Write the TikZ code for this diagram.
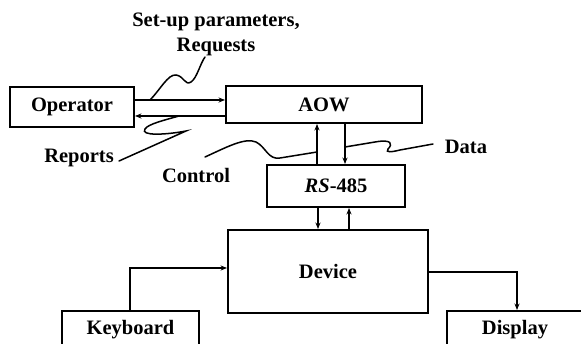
\documentclass[tikz,border=0pt]{standalone}
\usepackage{fontspec}
\setmainfont{Liberation Serif}
\usetikzlibrary{arrows.meta}
\begin{document}
\begin{tikzpicture}[x=1pt,y=-1pt,
  box/.style={draw, line width=1.9pt, inner sep=0pt, font=\fontsize{20.5}{23}\selectfont\bfseries},
  lbl/.style={inner sep=0pt, font=\fontsize{20.5}{23}\selectfont\bfseries},
  arr/.style={line width=1.5pt, -{Stealth[length=6.5pt,width=5pt]}},
  wig/.style={line width=1.5pt, line cap=round}]
\useasboundingbox (0,0) rectangle (581,344);
\clip (0,0) rectangle (581,344);
\fill[white] (0,0) rectangle (581,344);

\node[box, minimum width=124pt, minimum height=40pt] (op) at (72,107) {Operator};
\node[box, minimum width=196pt, minimum height=37pt] (aow) at (324,104.5) {AOW};
\node[box, minimum width=138pt, minimum height=42pt] (rs) at (336,186) {\textit{RS}-485};
\node[box, minimum width=200pt, minimum height=83pt] (dev) at (328,271.5) {Device};
\node[box, minimum width=137pt, minimum height=38pt] (kb) at (130.5,330) {Keyboard};
\node[box, minimum width=136pt, minimum height=38pt] (disp) at (515,330) {Display};

\node[lbl] (l1) at (216,22) {Set-up parameters,};
\node[lbl] (l2) at (216,47) {Requests};
\node[lbl] (rep) at (79,158) {Reports};
\node[lbl] (ctl) at (196,175) {Control};
\node[lbl] (dat) at (466,147) {Data};

% helper coordinates
\coordinate (yA) at (0,100);
\coordinate (yB) at (0,116);
\coordinate (xA) at (317,0);
\coordinate (xB) at (345,0);
\coordinate (xC) at (318,0);
\coordinate (xD) at (349,0);
\coordinate (xK) at (130,0);
\coordinate (yK) at (0,268);
\coordinate (yD) at (0,272);
\coordinate (xP) at (517,0);

\draw[arr] (op.east |- yA) -- (aow.west |- yA);
\draw[arr] (aow.west |- yB) -- (op.east |- yB);
\draw[arr] (rs.north -| xA) -- (aow.south -| xA);
\draw[arr] (aow.south -| xB) -- (rs.north -| xB);
\draw[arr] (rs.south -| xC) -- (dev.north -| xC);
\draw[arr] (dev.north -| xD) -- (rs.south -| xD);
\draw[arr] (kb.north -| xK) |- (dev.west |- yK);
\draw[arr] (dev.east |- yD) -| (disp.north -| xP);

% squiggles
\coordinate (s0) at (150,100);
\coordinate (s1) at (205,57);
\draw[wig] (s0) .. controls (160,90) and (168,74) .. (176,75)
  .. controls (184,76) and (185,86) .. (191,82)
  .. controls (197,78) and (200,64) .. (s1);

\coordinate (r0) at (119,161);
\coordinate (r1) at (179,116);
\draw[wig] (r0) -- (186,131) .. controls (165,135) and (140,136) .. (145,129)
  .. controls (148,124) and (165,120) .. (r1);

\coordinate (c0) at (205,157);
\coordinate (c1) at (317,152);
\draw[wig] (c0) .. controls (225,148) and (245,137) .. (256,142)
  .. controls (266,147) and (268,160) .. (280,158) -- (c1);

\coordinate (d0) at (345,147);
\coordinate (d1) at (433,144);
\draw[wig] (d0) -- (375,142) .. controls (392,139) and (393,144) .. (388,149)
  .. controls (385,153) and (392,152) .. (400,150) -- (d1);
\end{tikzpicture}
\end{document}
